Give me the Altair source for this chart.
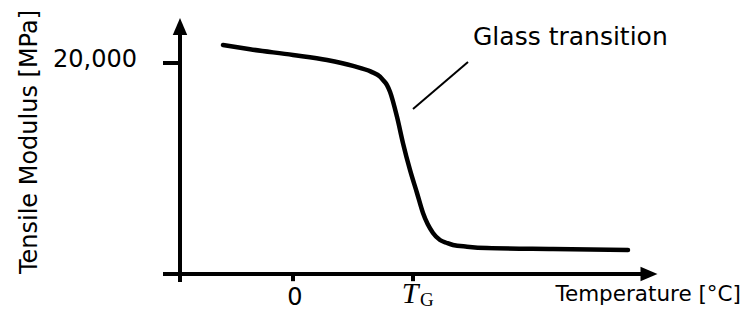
import altair as alt
import pandas as pd

# ---- data ----
temperature = [-70, -43, 0, 34, 60, 78, 87, 90, 94, 97, 104, 110, 117, 124, 130, 140, 147, 154, 160, 174, 194, 260, 335]
modulus = [21700, 21300, 20760, 20280, 19720, 19180, 18700, 18390, 17910, 17280, 14900, 12400, 9860, 7680,
           5780, 3890, 3220, 2940, 2750, 2590, 2460, 2370, 2280]

x_tick_values = [0, 120]
x_tick_labels = ["0", "T"]
x_tick_subscripts = ["", "G"]
y_tick_values = [20000]
y_tick_labels = ["20,000"]

y_axis_at = [-113]            # temperature where the vertical axis stands
x_axis_at = [0]               # modulus where the horizontal axis stands
x_axis_extent = [-130, 356]   # horizontal axis line (to arrow head centre)
y_axis_extent = [-760, 23460] # vertical axis line (to arrow head centre)

note_temperature = [175, 120]
note_modulus = [20100, 15640]
note_text = ["Glass transition"]
x_title = ["Temperature [°C]"]
y_title = ["Tensile Modulus [MPa]"]

# ---- scales ----
X_DOMAIN = [-285, 449]
Y_DOMAIN = [-3412, 25213]
W, H = 734, 302
FONT = "DejaVu Sans"

xs = alt.Scale(domain=X_DOMAIN, nice=False, zero=False)
ys = alt.Scale(domain=Y_DOMAIN, nice=False, zero=False)

def X(f):
    return alt.X(f, type="quantitative", scale=xs, axis=None)

def Y(f):
    return alt.Y(f, type="quantitative", scale=ys, axis=None)

curve = alt.Chart(pd.DataFrame({"T": temperature, "E": modulus})).mark_line(
    color="black", strokeWidth=4.5, interpolate="monotone", strokeCap="round"
).encode(x=X("T"), y=Y("E"))

x_axis = alt.Chart(pd.DataFrame({"a": [x_axis_extent[0]], "b": [x_axis_extent[1]], "y": x_axis_at})).mark_rule(
    color="black", strokeWidth=4, strokeCap="butt"
).encode(x=X("a"), x2="b", y=Y("y"))

y_axis = alt.Chart(pd.DataFrame({"x": y_axis_at, "a": [y_axis_extent[0]], "b": [y_axis_extent[1]]})).mark_rule(
    color="black", strokeWidth=4, strokeCap="butt"
).encode(x=X("x"), y=Y("a"), y2="b")

x_arrow = alt.Chart(pd.DataFrame({"x": [x_axis_extent[1]], "y": x_axis_at})).mark_point(
    shape="M1,0L-1,0.85L-1,-0.85Z", filled=True, size=289, color="black", opacity=1, strokeWidth=0
).encode(x=X("x"), y=Y("y"))

y_arrow = alt.Chart(pd.DataFrame({"x": y_axis_at, "y": [y_axis_extent[1]]})).mark_point(
    shape="M0,-1L0.85,1L-0.85,1Z", filled=True, size=289, color="black", opacity=1, strokeWidth=0
).encode(x=X("x"), y=Y("y"))

y_ticks_df = pd.DataFrame({"v": y_tick_values, "lab": y_tick_labels, "a": [-130], "b": y_axis_at})
y_ticks = alt.Chart(y_ticks_df).mark_rule(color="black", strokeWidth=4, strokeCap="butt").encode(
    x=X("a"), x2="b", y=Y("v"))
y_tick_text = alt.Chart(y_ticks_df).mark_text(
    font=FONT, fontSize=24, align="right", baseline="alphabetic", dy=4, color="black"
).encode(x=alt.value(129), y=Y("v"), text="lab:N")

x_ticks_df = pd.DataFrame({"v": x_tick_values, "lab": x_tick_labels, "sub": x_tick_subscripts,
                           "a": [0, 0], "b": [-680, -680]})
x_ticks = alt.Chart(x_ticks_df).mark_rule(color="black", strokeWidth=4, strokeCap="butt").encode(
    x=X("v"), y=Y("a"), y2="b")

zero_label = alt.Chart(x_ticks_df.iloc[[0]]).mark_text(
    font=FONT, fontSize=24, align="center", baseline="alphabetic", dx=2, dy=31, color="black"
).encode(x=X("v"), y=Y("a"), text="lab:N")

tg_label = alt.Chart(x_ticks_df.iloc[[1]]).mark_text(
    font="Liberation Serif", fontSize=30, fontStyle="italic", align="center", baseline="alphabetic",
    dx=-3, dy=29, color="black"
).encode(x=X("v"), y=Y("a"), text="lab:N")

tg_sub = alt.Chart(x_ticks_df.iloc[[1]]).mark_text(
    font="Liberation Serif", fontSize=19, align="left", baseline="alphabetic",
    dx=7, dy=32, color="black"
).encode(x=X("v"), y=Y("a"), text="sub:N")

note_line = alt.Chart(pd.DataFrame({"T": note_temperature, "E": note_modulus})).mark_line(
    color="black", strokeWidth=2
).encode(x=X("T"), y=Y("E"))

note = alt.Chart(pd.DataFrame({"t": note_text})).mark_text(
    font=FONT, fontSize=25, align="left", baseline="alphabetic", color="black"
).encode(x=alt.value(465), y=alt.value(37), text="t:N")

xtitle = alt.Chart(pd.DataFrame({"t": x_title})).mark_text(
    font=FONT, fontSize=21.5, align="right", baseline="alphabetic", color="black"
).encode(x=alt.value(733), y=alt.value(293), text="t:N")

ytitle = alt.Chart(pd.DataFrame({"t": y_title})).mark_text(
    font=FONT, fontSize=24, align="center", baseline="middle", angle=270, color="black"
).encode(x=alt.value(22), y=alt.value(134), text="t:N")

chart = alt.layer(
    x_axis, y_axis, x_arrow, y_arrow, y_ticks, x_ticks, curve, note_line,
    y_tick_text, zero_label, tg_label, tg_sub, note, xtitle, ytitle
).properties(width=W, height=H, padding=0, autosize="none").configure_view(stroke=None)

chart.save("out.html", embed_options={"renderer": "svg", "actions": False})
